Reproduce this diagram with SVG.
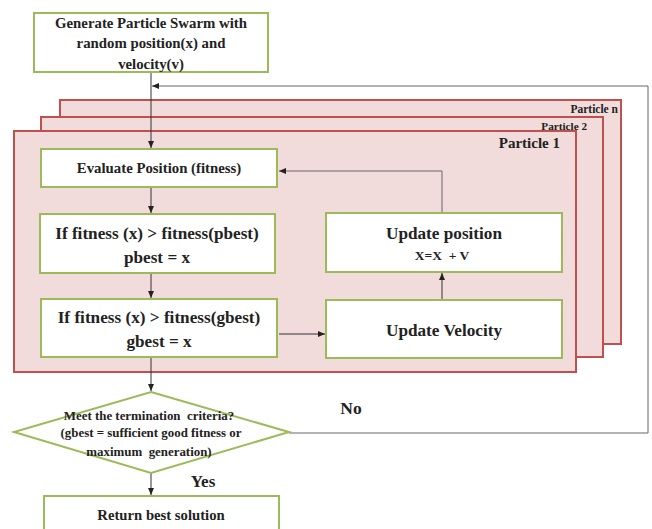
<svg xmlns="http://www.w3.org/2000/svg" width="652" height="529" viewBox="0 0 652 529">
<defs>
<marker id="ah" markerWidth="8" markerHeight="8" refX="7" refY="4" orient="auto" markerUnits="userSpaceOnUse">
<path d="M0,1 L7,4 L0,7 Z" fill="#222"/>
</marker>
<style>
.box{fill:#fff;stroke:#9bbb59;stroke-width:2}
.part{fill:#f2dcdb;stroke:#c0504d;stroke-width:2}
.t{font-family:"Liberation Serif","Times New Roman",serif;font-weight:bold;fill:#222;text-anchor:middle}
.e{text-anchor:end}
.pre{white-space:pre}
.c{fill:none;stroke:#333;stroke-width:1}
.fb{fill:none;stroke:#666;stroke-width:1}
</style>
</defs>
<rect width="652" height="529" fill="#fff"/>
<g id="particle-n"><rect class="part" x="60" y="100" width="561" height="244"/><text class="t e" x="618" y="113" font-size="11.5">Particle n</text></g>
<g id="particle-2"><rect class="part" x="41" y="117" width="562" height="240"/><text class="t e" x="587" y="130" font-size="11.2">Particle 2</text></g>
<g id="particle-1"><rect class="part" x="14" y="131" width="562" height="241"/><text class="t e" x="560" y="148" font-size="15">Particle 1</text></g>
<g id="connectors">
<line class="c" x1="151" y1="72" x2="151" y2="148" marker-end="url(#ah)"/>
<polyline class="fb" points="289,433 648,433 648,86 152,86" marker-end="url(#ah)"/>
<line class="c" x1="151" y1="187" x2="151" y2="213" marker-end="url(#ah)"/>
<line class="c" x1="151" y1="273" x2="151" y2="298" marker-end="url(#ah)"/>
<line class="c" x1="279" y1="334" x2="325" y2="334" marker-end="url(#ah)"/>
<line class="c" x1="442" y1="300" x2="442" y2="273" marker-end="url(#ah)"/>
<polyline class="fb" points="442,213 442,171 279,171" marker-end="url(#ah)"/>
<line class="c" x1="151" y1="357" x2="151" y2="391" marker-end="url(#ah)"/>
<line class="c" x1="151" y1="473" x2="151" y2="495" marker-end="url(#ah)"/>
</g>
<g id="generate"><rect class="box" x="34" y="13" width="234" height="59"/>
<text class="t" font-size="14.8"><tspan x="151" y="28">Generate Particle Swarm with</tspan><tspan x="151" y="48">random position(x) and</tspan><tspan x="151" y="69">velocity(v)</tspan></text></g>
<g id="evaluate"><rect class="box" x="41" y="149" width="236" height="38"/><text class="t" x="159" y="173" font-size="14.8">Evaluate Position (fitness)</text></g>
<g id="pbest"><rect class="box" x="40" y="214" width="235" height="59"/>
<text class="t" font-size="17.2"><tspan x="157" y="239">If fitness (x) &gt; fitness(pbest)</tspan><tspan x="157" y="263">pbest = x</tspan></text></g>
<g id="gbest"><rect class="box" x="41" y="299" width="236" height="58"/>
<text class="t" font-size="17.2"><tspan x="159" y="323">If fitness (x) &gt; fitness(gbest)</tspan><tspan x="159" y="347">gbest = x</tspan></text></g>
<g id="update-position"><rect class="box" x="326" y="213" width="236" height="59"/>
<text class="t" x="444" y="239" font-size="17.2">Update position</text><text class="t pre" x="442" y="260" font-size="13.5">X=X  + V</text></g>
<g id="update-velocity"><rect class="box" x="326" y="300" width="236" height="58"/><text class="t" x="444" y="336" font-size="17.2">Update Velocity</text></g>
<g id="decision"><polygon points="151,392 289,432 151,473 14,432" fill="#fff" stroke="#9bbb59" stroke-width="2"/>
<text class="t pre" font-size="12.9"><tspan x="149" y="420">Meet the termination  criteria?</tspan><tspan x="151" y="437">(gbest = sufficient good fitness or</tspan><tspan x="149" y="456">maximum  generation)</tspan></text></g>
<text class="t" x="351" y="414" font-size="17.5">No</text>
<text class="t" x="203" y="487" font-size="17">Yes</text>
<g id="return"><rect class="box" x="44" y="496" width="235" height="40"/><text class="t" x="161" y="520" font-size="14.7">Return best solution</text></g>
</svg>
